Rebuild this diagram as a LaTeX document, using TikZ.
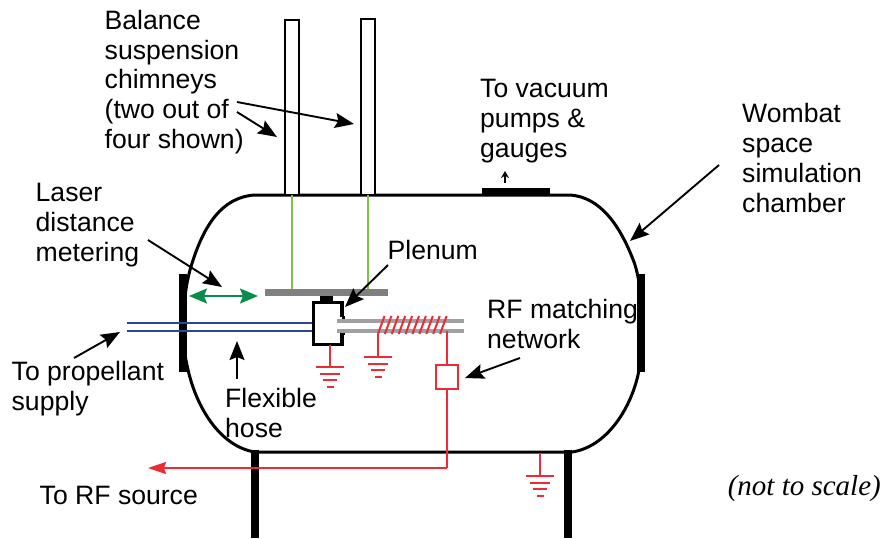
\documentclass[tikz,border=0pt]{standalone}
\usepackage{fontspec}
\setmainfont{Liberation Sans}
\newfontfamily\notefont{Liberation Serif}
\usetikzlibrary{arrows}
\usetikzlibrary{arrows.meta}

\tikzset{
	label/.style={anchor=west, inner sep=0pt, align=left, font=\fontsize{26.6}{29.8}\selectfont},
	pointer/.style={-{Stealth[length=19pt, width=15pt, inset=3pt]}, line width=1.9pt, black},
	wall/.style={line width=3pt, black},
	plate/.style={line width=7.5pt, black},
	rfline/.style={line width=2pt, color=rfred},
	hoseline/.style={line width=1.7pt, color=hoseblue},
	tubeline/.style={line width=3.6pt, color=tubegray}
}
\definecolor{rfred}{RGB}{238,42,53}
\definecolor{hoseblue}{RGB}{46,70,150}
\definecolor{tubegray}{RGB}{160,160,160}
\definecolor{rangegreen}{RGB}{10,140,75}
\definecolor{wiregreen}{RGB}{125,195,70}

\begin{document}
\begin{tikzpicture}[x=1pt, y=-1pt]
\useasboundingbox (0,0) rectangle (883,538);

% chamber
\draw[wall] (255,195) -- (570,195) .. controls (600,197) and (620,225) .. (634,262) .. controls (644,290) and (644,345) .. (638,375) .. controls (630,410) and (606,447) .. (572,452) -- (255,452) .. controls (222,447) and (196,410) .. (187,365) .. controls (181,340) and (182,300) .. (190,270) .. controls (203,225) and (222,197) .. (255,195) -- cycle;
\draw[plate] (183,274) -- (183,372);
\draw[plate] (641,274) -- (641,372);
\draw[plate] (255,450) -- (255,538);
\draw[plate] (568,450) -- (568,538);
\draw[line width=6pt] (482,191) -- (550,191);

% chimneys
\draw[line width=1.5pt, fill=white] (285,195) rectangle (299,20);
\draw[line width=1.5pt, fill=white] (361,195) rectangle (375,19);
\draw[color=wiregreen, line width=1.5pt] (292,195) -- (292,290);
\draw[color=wiregreen, line width=1.5pt] (368,195) -- (368,290);
\draw[line width=7pt, color=gray] (265,292.5) -- (388,292.5);

% hose
\draw[hoseline] (127,323) -- (315,323);
\draw[hoseline] (127,331) -- (315,331);

% plenum
\fill (320,296) rectangle (333,303);
\draw[line width=3.6pt] (342,317) -- (342,302.5) -- (313.5,302.5) -- (313.5,344.5) -- (342,344.5) -- (342,333);
\draw[line width=3pt] (342,317) -- (345,317);
\draw[line width=3pt] (342,333) -- (345,333);

% matching network
\draw[tubeline] (337,321) -- (464,321);
\draw[tubeline] (337,331) -- (464,331);
\foreach \i in {0,...,9}
	\draw[rfline] ({378+6.9*\i},334) -- ({384.5+6.9*\i},316);
\node (matchbox) at (447,376.5) [draw=rfred, line width=2pt, fill=white, minimum width=22pt, minimum height=24pt, inner sep=0pt] {};
\coordinate (coilend) at (447,331);
\coordinate (corner) at (447,468);
\coordinate (rfout) at (148,468);
\draw[rfline] (coilend) -- (matchbox);
\draw[rfline] (matchbox) -- (corner);
\draw[rfline, -{Stealth[length=18pt, width=12pt, inset=2pt]}] (corner) -- (rfout);

% grounds
\foreach \x/\y/\l in {330/345/22, 378/333/24, 540/453/23} {
	\draw[rfline] (\x,\y) -- (\x,\y+\l);
	\draw[rfline] (\x-14,\y+\l) -- (\x+14,\y+\l);
	\draw[rfline] (\x-10,\y+\l+6.5) -- (\x+10,\y+\l+6.5);
	\draw[rfline] (\x-7,\y+\l+13) -- (\x+7,\y+\l+13);
	\draw[rfline] (\x-3.5,\y+\l+19.5) -- (\x+3.5,\y+\l+19.5);
}

% labels
\node[label] (chimneys) at (104.5,82) {Balance\\suspension\\chimneys\\(two out of\\four shown)};
\node[label] (laser) at (35.5,225) {Laser\\distance\\metering};
\node[label] (plenum) at (387.5,250) {Plenum};
\node[label] (vacuum) at (480,121) {To vacuum\\pumps \&\\gauges};
\node[label] (wombat) at (742,158) {Wombat\\space\\simulation\\chamber};
\node[label] (matching) at (487,324) {RF matching\\network};
\node[label] (propellant) at (11.5,389) {To propellant\\supply};
\node[label] (flexible) at (225,413) {Flexible\\hose};
\node[label] (source) at (39.5,495) {To RF source};
\node[anchor=east, inner sep=0pt, font=\notefont\itshape\fontsize{29}{30}\selectfont] (scalenote) at (881,489) {(not to scale)};

% pointers
\coordinate (chimneystart) at (237,102);
\coordinate (chimneytip) at (354,124);
\coordinate (chimneystartb) at (237,112);
\coordinate (chimneytipb) at (277,137);
\draw[pointer] (chimneystart) -- (chimneytip);
\draw[pointer] (chimneystartb) -- (chimneytipb);
\coordinate (laserstart) at (148,240);
\coordinate (lasertip) at (222,287);
\draw[pointer] (laserstart) -- (lasertip);
\coordinate (plenumstart) at (388,265);
\coordinate (plenumtip) at (345,307);
\draw[pointer] (plenumstart) -- (plenumtip);
\coordinate (wombatstart) at (719,165);
\coordinate (wombattip) at (630,241);
\draw[pointer] (wombatstart) -- (wombattip);
\coordinate (matchstart) at (520,358);
\coordinate (matchtip) at (465,378);
\draw[pointer] (matchstart) -- (matchtip);
\coordinate (propstart) at (74,358);
\coordinate (proptip) at (120,332);
\draw[pointer] (propstart) -- (proptip);
\coordinate (hosestart) at (237,379);
\coordinate (hosetip) at (237,341);
\draw[pointer] (hosestart) -- (hosetip);
\coordinate (pumpstart) at (505,183);
\coordinate (pumptip) at (505,171);
\draw[-{Stealth[length=7pt, width=8pt]}, line width=1.6pt] (pumpstart) -- (pumptip);

% range arrow
\coordinate (rangeleft) at (189,296);
\coordinate (rangeright) at (258,296);
\draw[{Stealth[length=18pt, width=15pt, inset=3pt]}-{Stealth[length=18pt, width=15pt, inset=3pt]}, line width=2pt, color=rangegreen] (rangeleft) -- (rangeright);
\end{tikzpicture}
\end{document}
